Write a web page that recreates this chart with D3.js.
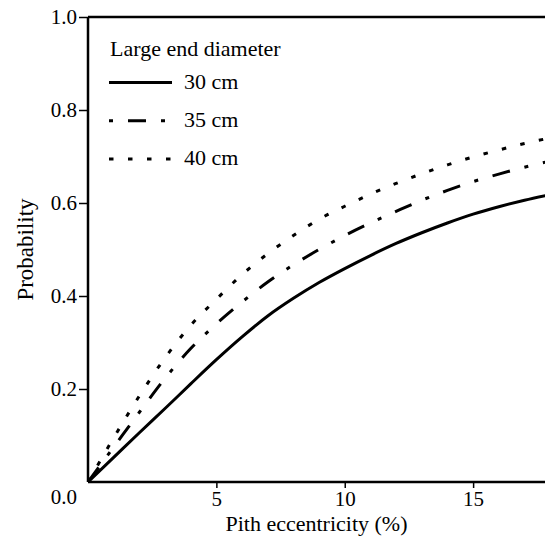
<!DOCTYPE html>
<html>
<head>
<meta charset="utf-8">
<script src="https://cdn.jsdelivr.net/npm/d3@7"></script>
<style>
  body { margin: 0; background: #fff; }
</style>
</head>
<body>
<div id="chart"></div>
<script>
'use strict';
// Values
const xValues = [0, 1, 2, 3, 4, 5, 6, 7, 8, 9, 10, 11, 12, 13, 14, 15, 16, 17, 18]
const prob30 = [0, 0.053, 0.106, 0.158, 0.211, 0.263, 0.312, 0.357, 0.395, 0.429, 0.459, 0.487, 0.513, 0.536, 0.557, 0.576, 0.592, 0.606, 0.618]
const prob35 = [0, 0.075, 0.15, 0.223, 0.287, 0.34, 0.387, 0.43, 0.467, 0.5, 0.53, 0.557, 0.582, 0.606, 0.627, 0.646, 0.662, 0.677, 0.69]
const prob40 = [0, 0.095, 0.185, 0.267, 0.337, 0.393, 0.446, 0.491, 0.53, 0.565, 0.593, 0.619, 0.642, 0.663, 0.682, 0.699, 0.714, 0.728, 0.74]
const seriesNames = ['30 cm', '35 cm', '40 cm']
const xTicks = [5, 10, 15]
const yTicks = [0, 0.2, 0.4, 0.6, 0.8, 1.0]

const width = 545
const height = 543
const margin = { top: 17, right: 0, bottom: 61, left: 88 }
const serif = '"Liberation Serif", "Times New Roman", serif'
const dashes = ['none', '18,15,4,15', '4.5,14.5']
const legendDashes = ['none', '4,15,18,15', '4.5,14.5']

const svg = d3.select('#chart').append('svg')
    .attr('width', width)
    .attr('height', height)
    .style('display', 'block')

const x = d3.scaleLinear()
    .domain([0, 17.8])
    .range([margin.left, width - margin.right])
const y = d3.scaleLinear()
    .domain([0, 1])
    .range([height - margin.bottom, margin.top])

svg.append('clipPath').attr('id', 'plot-clip') // keep curves inside the frame
    .append('rect')
    .attr('x', margin.left)
    .attr('y', margin.top)
    .attr('width', width - margin.left - margin.right)
    .attr('height', height - margin.top - margin.bottom)

const series = [prob30, prob35, prob40].map(function(vals, i) {
    return { name: seriesNames[i], points: xValues.map(function(d, j) { return [d, vals[j]] }) }
})

const line = d3.line()
    .x(function(d) { return x(d[0]) })
    .y(function(d) { return y(d[1]) })
    .curve(d3.curveMonotoneX)

svg.append('g').attr('clip-path', 'url(#plot-clip)') // Plot the three curves
    .selectAll('path').data(series).enter().append('path')
    .attr('fill', 'none')
    .attr('stroke', '#000')
    .attr('stroke-width', 3)
    .attr('stroke-dasharray', function(d, i) { return dashes[i] })
    .attr('d', function(d) { return line(d.points) })

const xAxis = svg.append('g') // x axis
    .attr('transform', `translate(0, ${y(0)})`)
    .call(d3.axisBottom(x).tickValues(xTicks).tickSize(6).tickPadding(3).tickFormat(d3.format('d')))
const yAxis = svg.append('g') // y axis
    .attr('transform', `translate(${x(0)}, 0)`)
    .call(d3.axisLeft(y).tickValues(yTicks).tickSize(9).tickPadding(2).tickFormat(d3.format('.1f')))

;[xAxis, yAxis].forEach(function(ax) {
    ax.attr('font-family', serif).attr('font-size', 21)
    ax.select('.domain').attr('stroke', '#000').attr('stroke-width', 2.5)
    ax.selectAll('.tick line').attr('stroke', '#000').attr('stroke-width', 1.5)
    ax.selectAll('.tick text').attr('fill', '#000')
})
xAxis.select('.domain').attr('d', `M${x(0)},0H${width}`)
yAxis.select('.domain').attr('d', `M0,${y(0)}V${y(1)}`)
yAxis.selectAll('.tick').filter(function(d) { return d === 0 }) // origin label sits lower, no tick mark
    .call(function(t) {
        t.select('line').remove()
        t.select('text').attr('dy', '1.0em')
    })

svg.append('line') // top frame line
    .attr('x1', x(0))
    .attr('x2', width)
    .attr('y1', y(1))
    .attr('y2', y(1))
    .attr('stroke', '#000')
    .attr('stroke-width', 2.5)

svg.append('text') // x axis label
    .attr('x', (x(0) + width) / 2)
    .attr('y', 531)
    .attr('text-anchor', 'middle')
    .attr('font-family', serif)
    .attr('font-size', 22)
    .text('Pith eccentricity (%)')
svg.append('text') // y axis label
    .attr('transform', `translate(33, ${(y(0) + y(1)) / 2}) rotate(-90)`)
    .attr('text-anchor', 'middle')
    .attr('font-family', serif)
    .attr('font-size', 23)
    .text('Probability')

const legend = svg.append('g') // Legend
    .attr('font-family', serif)
    .attr('font-size', 22)
legend.append('text')
    .attr('x', 110)
    .attr('y', 56)
    .text('Large end diameter')
const rows = legend.selectAll('g').data(series).enter().append('g')
    .attr('transform', function(d, i) { return `translate(109, ${82.5 + i * 38.3})` })
rows.append('line')
    .attr('x1', 0)
    .attr('x2', 63)
    .attr('stroke', '#000')
    .attr('stroke-width', 3)
    .attr('stroke-dasharray', function(d, i) { return legendDashes[i] })
rows.append('text')
    .attr('x', 75)
    .attr('y', 6)
    .text(function(d) { return d.name })
</script>
</body>
</html>
